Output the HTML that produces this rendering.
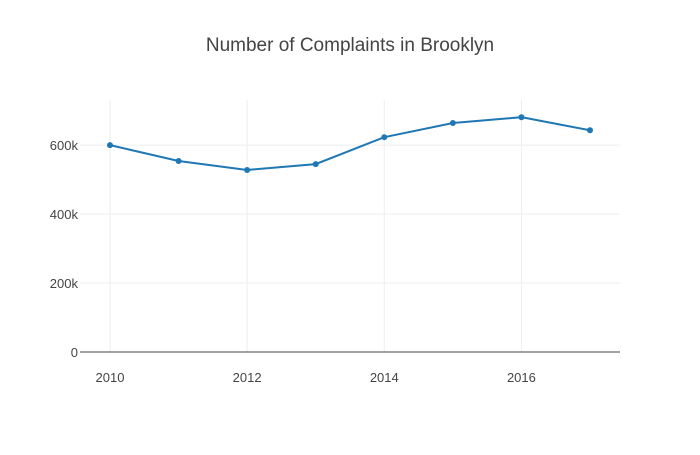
<!DOCTYPE html>
<html><head><meta charset="utf-8"><style>
body{margin:0;background:#fff;}
svg{font-family:"Liberation Sans",sans-serif;}
</style></head><body>
<svg id="chart" width="700" height="450">
<rect width="700" height="450" fill="#fff"/>
<text x="350" y="51" text-anchor="middle" font-size="19" fill="#444">Number of Complaints in Brooklyn</text>
<g id="grid"></g><g id="axes"></g><g id="series"></g>
</svg>
<script>
const years=[2010,2011,2012,2013,2014,2015,2016,2017];
const complaints=[600,554,528,545,623,664,681,643];
const yTicks=[0,200,400,600];
const yTickLabels=["0","200k","400k","600k"];
const xTicks=[2010,2012,2014,2016];
const ns="http://www.w3.org/2000/svg";
const X=v=>110+(v-2010)*68.57;
const Y=v=>352-v*0.3448;
function mk(t,a,p){const e=document.createElementNS(ns,t);for(const k in a)e.setAttribute(k,a[k]);p.appendChild(e);return e;}
const grid=document.getElementById('grid'),axes=document.getElementById('axes'),ser=document.getElementById('series');
xTicks.forEach(t=>{
const l=mk('line',{x1:X(t),x2:X(t),y1:100,y2:352,stroke:'#eee','stroke-width':1},grid);


const tx=mk('text',{x:X(t),y:382,'text-anchor':'middle','font-size':13,fill:'#444'},axes);tx.textContent=t;


});
yTicks.forEach((t,i)=>{
if(t>0){const l=mk('line',{x1:80,x2:620,y1:Y(t),y2:Y(t),stroke:'#eee','stroke-width':1},grid);

}
const tx=mk('text',{x:78,y:Y(t)+5,'text-anchor':'end','font-size':13,fill:'#444'},axes);tx.textContent=yTickLabels[i];


});
const z=mk('line',{x1:80,x2:620,y1:352,y2:352,stroke:'#444','stroke-width':1},axes);


const pts=years.map((y,i)=>X(y)+','+Y(complaints[i])).join(' ');
const pl=mk('polyline',{points:pts,fill:'none',stroke:'#1f77b4','stroke-width':2},ser);


years.forEach((y,i)=>{
const c=mk('circle',{cx:X(y),cy:Y(complaints[i]),r:3,fill:'#1f77b4'},ser);


});
</script>
</body></html>
